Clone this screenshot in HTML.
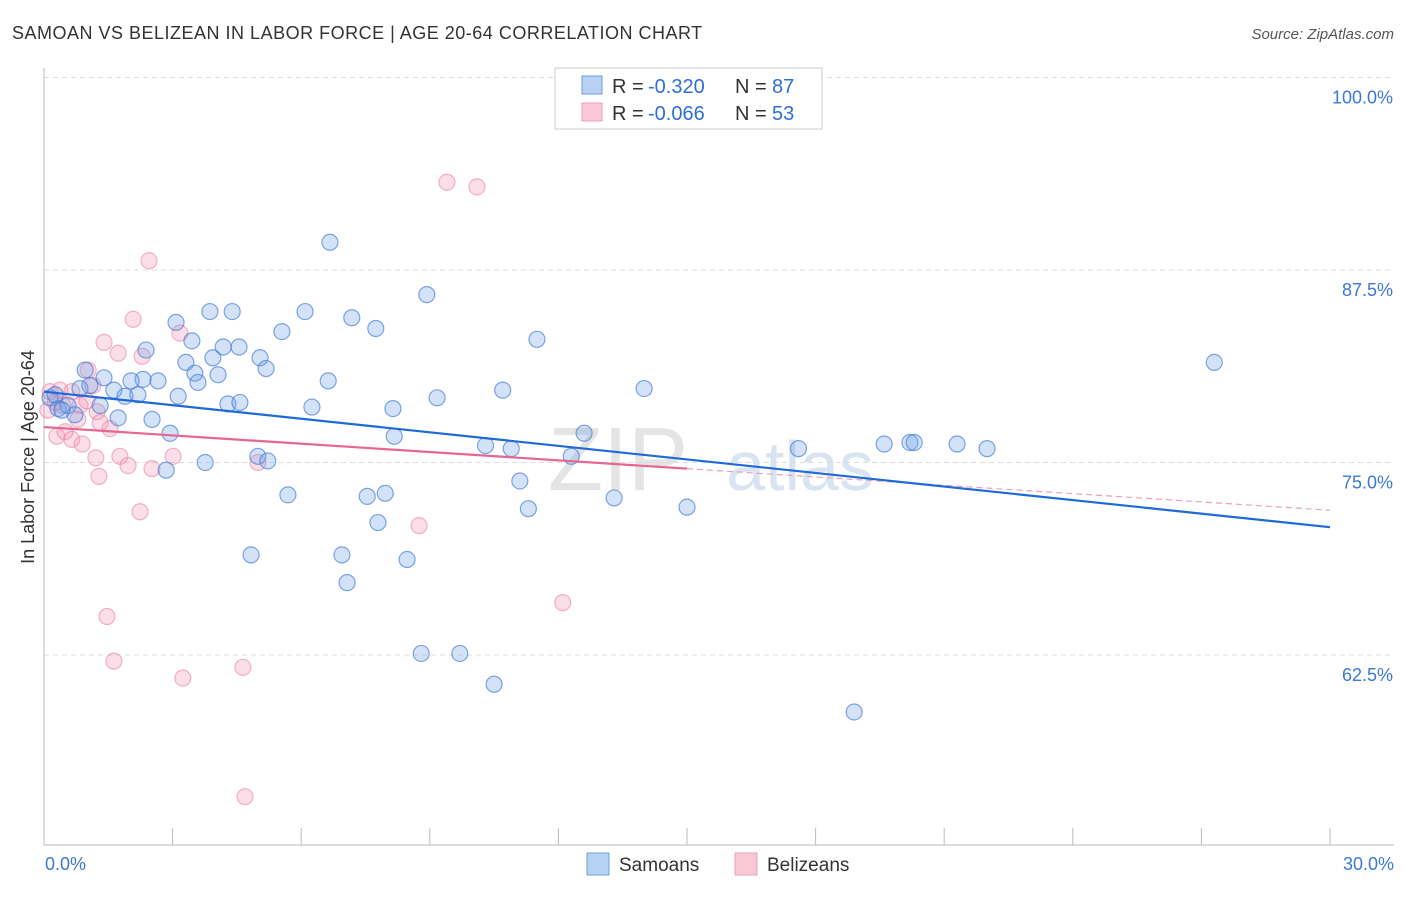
<!DOCTYPE html>
<html><head><meta charset="utf-8"><style>
body{margin:0;background:#fff;font-family:"Liberation Sans",sans-serif}
svg text{font-family:"Liberation Sans",sans-serif}
</style></head><body>
<svg id="c" width="1406" height="892">
<text x="12" y="39" font-size="18" fill="#333" letter-spacing="0.5">SAMOAN VS BELIZEAN IN LABOR FORCE | AGE 20-64 CORRELATION CHART</text>
<text x="1394" y="39" font-size="15" fill="#555" font-style="italic" text-anchor="end">Source: ZipAtlas.com</text>
<text x="618" y="490" font-size="90" fill="#e4e4e4" font-family="Liberation Serif" text-anchor="middle">ZIP</text>
<text x="800" y="490" font-size="70" fill="#d8e4f2" text-anchor="middle">atlas</text>
<g id="grid"></g>
<g id="axes"></g>
<g id="marks"></g>
<text transform="translate(34,457) rotate(-90)" font-size="18" fill="#333" text-anchor="middle">In Labor Force | Age 20-64</text>
<g>
<rect x="555" y="68" width="267" height="61" fill="#fff" stroke="#ccc"/>
<rect x="582" y="76" width="20" height="18" fill="#b8d2f4" stroke="#6a9de0"/>
<text x="612" y="93" font-size="20" fill="#333">R =</text>
<text x="648" y="93" font-size="20" fill="#2f6fd6">-0.320</text>
<text x="735" y="93" font-size="20" fill="#333">N =</text>
<text x="772" y="93" font-size="20" fill="#2f6fd6">87</text>
<rect x="582" y="103" width="20" height="18" fill="#f8c8d6" stroke="#f0a0b8"/>
<text x="612" y="120" font-size="20" fill="#333">R =</text>
<text x="648" y="120" font-size="20" fill="#2f6fd6">-0.066</text>
<text x="735" y="120" font-size="20" fill="#333">N =</text>
<text x="772" y="120" font-size="20" fill="#2f6fd6">53</text>
</g>
<g>
<rect x="587" y="853" width="22" height="22" fill="#b8d2f4" stroke="#6a9de0"/>
<text x="619" y="871" font-size="19" fill="#333">Samoans</text>
<rect x="735" y="853" width="22" height="22" fill="#f8c8d6" stroke="#f0a0b8"/>
<text x="767" y="871" font-size="19" fill="#333">Belizeans</text>
</g>
</svg>
<script>
const yTicks=[100,87.5,75,62.5];
const yTickLabels=["100.0%","87.5%","75.0%","62.5%"];
const xTickLabels=["0.0%","30.0%"];
const blueX=[6.67,8.93,3.87,4.39,6.09,7.18,7.74,3.08,5.55,11.5,3.45,2.38,4.18,4.55,3.94,5.04,3.31,5.18,3.52,4.06,0.96,1.40,2.31,2.03,2.66,3.59,6.63,27.3,14.0,10.7,1.63,0.84,3.13,9.17,1.89,2.19,4.29,4.57,6.25,8.14,1.31,1.73,2.52,0.14,0.33,0.56,0.72,2.94,8.17,12.6,10.3,10.9,12.3,17.6,19.6,20.2,20.3,21.3,22.0,4.99,5.22,3.76,2.85,11.1,5.69,7.54,7.96,13.3,11.3,15.0,7.79,4.83,6.95,8.47,7.07,8.80,9.70,10.5,18.9,0.26,0.42,1.07];
const blueY=[89.3,85.9,84.8,84.8,84.8,84.4,83.7,84.1,83.5,83.0,82.9,82.3,82.5,82.5,81.8,81.8,81.5,81.1,80.8,80.7,81.0,80.5,80.4,80.3,80.3,80.2,80.3,81.5,79.8,79.7,79.7,79.8,79.3,79.2,79.3,79.4,78.8,78.9,78.6,78.5,78.7,77.9,77.8,79.2,78.5,78.7,78.1,76.9,76.7,76.9,76.1,75.9,75.4,75.9,76.2,76.3,76.3,76.2,75.9,75.4,75.1,75.0,74.5,73.8,72.9,72.8,73.0,72.7,72.0,72.1,71.1,69.0,69.0,68.7,67.2,62.6,62.6,60.6,58.8,79.4,78.4,80.0];
const pinkX=[9.40,10.1,2.45,2.08,3.17,1.40,1.73,2.29,1.03,1.14,0.37,0.65,0.14,0.26,0.09,0.44,0.84,1.24,0.79,0.49,1.54,1.31,0.65,0.89,0.30,1.21,1.77,1.96,3.01,2.52,4.99,1.28,2.24,8.75,12.1,1.47,1.63,4.64,3.24,4.69,1.0];
const pinkY=[93.2,92.9,88.1,84.3,83.4,82.8,82.1,81.9,81.0,80.0,79.7,79.6,79.6,78.9,78.4,78.7,78.7,78.3,77.8,77.0,77.2,77.6,76.5,76.2,76.7,75.3,75.4,74.8,75.4,74.6,75.0,74.1,71.8,70.9,65.9,65.0,62.1,61.7,61.0,53.3,79.0];
const blueTrend=[79.6,70.8];
const pinkTrend=[77.3,71.9];
const pinkSolidEnd=15.0;
const NS="http://www.w3.org/2000/svg";
const X=v=>44+v/30*1286;
const Y=v=>77.5+(100-v)*15.4;
function mk(t,a,p){const e=document.createElementNS(NS,t);for(const k in a)e.setAttribute(k,a[k]);p.appendChild(e);return e;}
const grid=document.getElementById('grid'),axes=document.getElementById('axes'),marks=document.getElementById('marks');
yTicks.forEach((t,i)=>{
 const l=mk('line',{x1:44,x2:1394,y1:Y(t),y2:Y(t),stroke:'#ddd','stroke-dasharray':'5,4'},grid);
 
 
 const tx=mk('text',{x:1393,y:Y(t)+26,'font-size':18,fill:'#3b78d8','text-anchor':'end'},axes);
 tx.textContent=yTickLabels[i];
 
 
});
const xa=mk('line',{x1:44,x2:1394,y1:845,y2:845,stroke:'#bbb'},axes);


const ya=mk('line',{x1:44,x2:44,y1:68,y2:845,stroke:'#bbb'},axes);


for(let i=1;i<=10;i++){const t=mk('line',{x1:X(i*3),x2:X(i*3),y1:828,y2:845,stroke:'#bbb'},axes);
 
 }
[[0,'start',45],[30,'end',1394]].forEach((d,i)=>{const t=mk('text',{x:d[2],y:870,'font-size':18,fill:'#3b78d8','text-anchor':d[1]},axes);t.textContent=xTickLabels[i];
 
 });
pinkX.forEach((x,i)=>{const c=mk('circle',{cx:X(x),cy:Y(pinkY[i]),r:8,fill:'rgba(242,150,180,0.3)',stroke:'rgba(236,130,165,0.6)','stroke-width':1.2},marks);
 
 });
blueX.forEach((x,i)=>{const c=mk('circle',{cx:X(x),cy:Y(blueY[i]),r:8,fill:'rgba(110,160,230,0.3)',stroke:'rgba(60,120,215,0.65)','stroke-width':1.2},marks);
 
 });
const py=x=>pinkTrend[0]+(pinkTrend[1]-pinkTrend[0])*x/30;
const pd=mk('line',{x1:X(pinkSolidEnd),y1:Y(py(pinkSolidEnd)),x2:X(30),y2:Y(pinkTrend[1]),stroke:'#eaa0b8','stroke-width':1.2,'stroke-dasharray':'6,4'},marks);


const ps=mk('line',{x1:X(0),y1:Y(pinkTrend[0]),x2:X(pinkSolidEnd),y2:Y(py(pinkSolidEnd)),stroke:'#e8668e','stroke-width':2.2},marks);


const bl=mk('line',{x1:X(0),y1:Y(blueTrend[0]),x2:X(30),y2:Y(blueTrend[1]),stroke:'#1f6ad6','stroke-width':2.2},marks);


</script>
</body></html>
